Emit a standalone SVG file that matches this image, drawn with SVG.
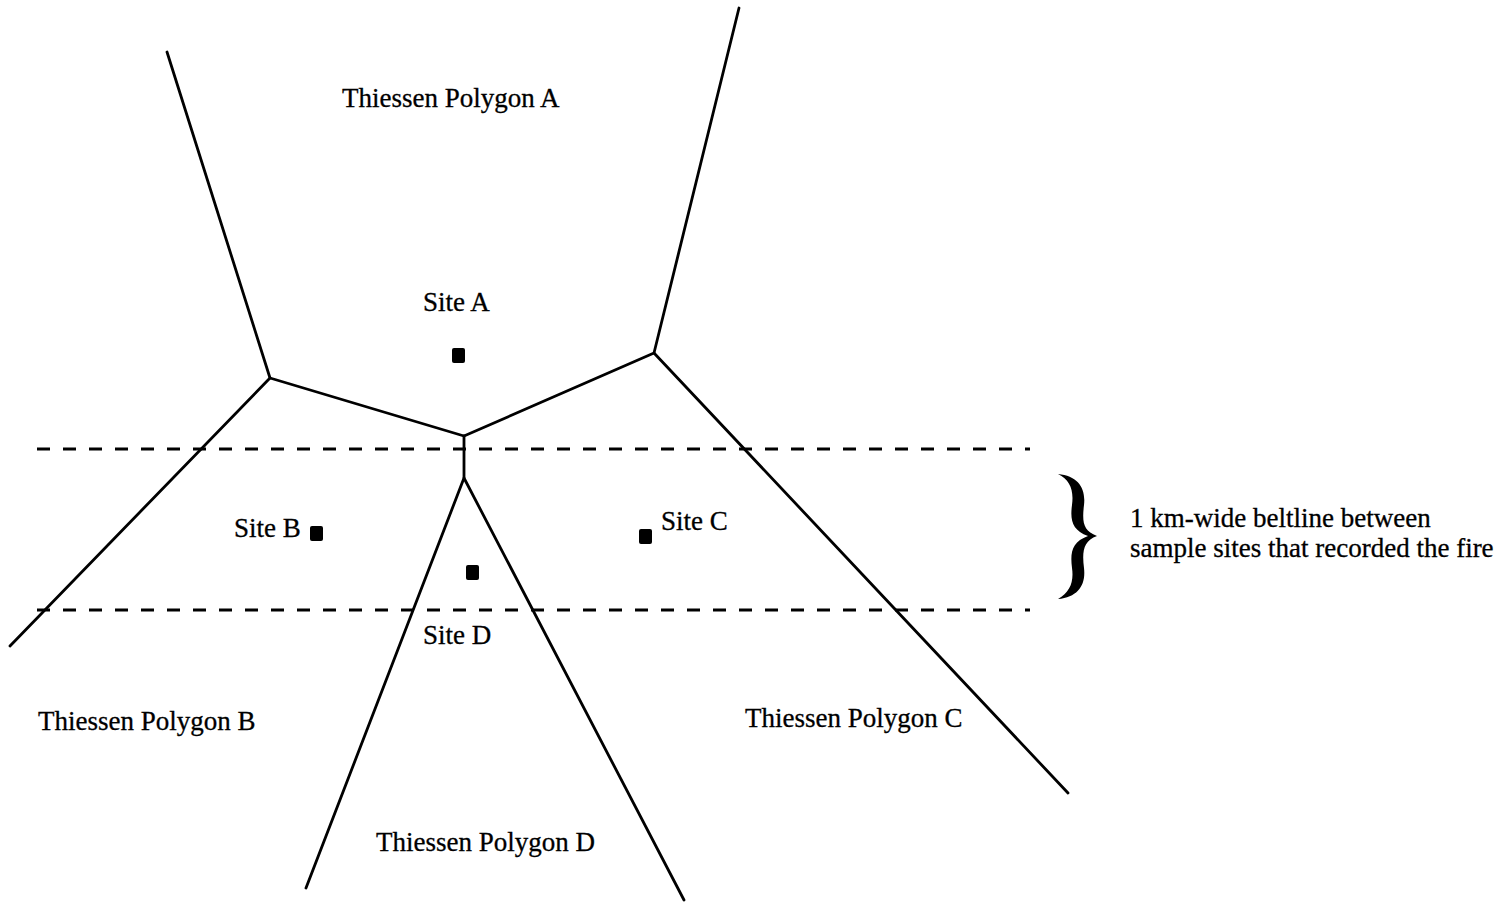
<svg xmlns="http://www.w3.org/2000/svg" width="1508" height="902" viewBox="0 0 1508 902">
<style>
.edge{stroke:#000;stroke-width:2.8;fill:none;stroke-linecap:round;stroke-linejoin:round}
.dash{stroke:#000;stroke-width:2.8;fill:none;stroke-dasharray:13 13}
.site{fill:#000}
text{font-family:"Liberation Serif","Times New Roman",serif;font-size:27px;fill:#000;stroke:#000;stroke-width:0.3}
</style>
<rect width="1508" height="902" fill="#fff"/>
<g id="connectors">
<path class="edge" d="M167,52 L270,378 L464,436 L654,353 L739,8"/>
<path class="edge" d="M270,378 L10,646"/>
<path class="edge" d="M654,353 L1068,793"/>
<path class="edge" d="M464,436 L464,478"/>
<path class="edge" d="M306,888 L464,478 L684,900"/>
<line class="dash" x1="37" y1="449" x2="1030" y2="449"/>
<line class="dash" x1="37" y1="610" x2="1030" y2="610"/>
</g>
<g id="polygon-a"><text x="342" y="107">Thiessen Polygon A</text></g>
<g id="polygon-b"><text x="38" y="730">Thiessen Polygon B</text></g>
<g id="polygon-c"><text x="745" y="727">Thiessen Polygon C</text></g>
<g id="polygon-d"><text x="376" y="851">Thiessen Polygon D</text></g>
<g id="site-a"><text x="423" y="311">Site A</text><rect class="site" x="452" y="348" width="13" height="15" rx="2"/></g>
<g id="site-b"><text x="234" y="537">Site B</text><rect class="site" x="310" y="526" width="13" height="15" rx="2"/></g>
<g id="site-c"><text x="661" y="530">Site C</text><rect class="site" x="639" y="529" width="13" height="15" rx="2"/></g>
<g id="site-d"><text x="423" y="644">Site D</text><rect class="site" x="466" y="565" width="13" height="15" rx="2"/></g>
<g id="beltline">
<path fill="#000" d="M1058,474 C1078,476 1086,488 1084,505 C1082,522 1083,531 1097,536 C1083,541 1082,552 1084,568 C1086,585 1078,597 1058,599 C1070,592 1074,582 1072,568 C1070,552 1072,542 1088,536 C1072,530 1070,520 1072,505 C1074,490 1070,480 1058,474 Z"/>
<text x="1130" y="527">1 km-wide beltline between</text>
<text x="1130" y="557">sample sites that recorded the fire</text>
</g>
</svg>
